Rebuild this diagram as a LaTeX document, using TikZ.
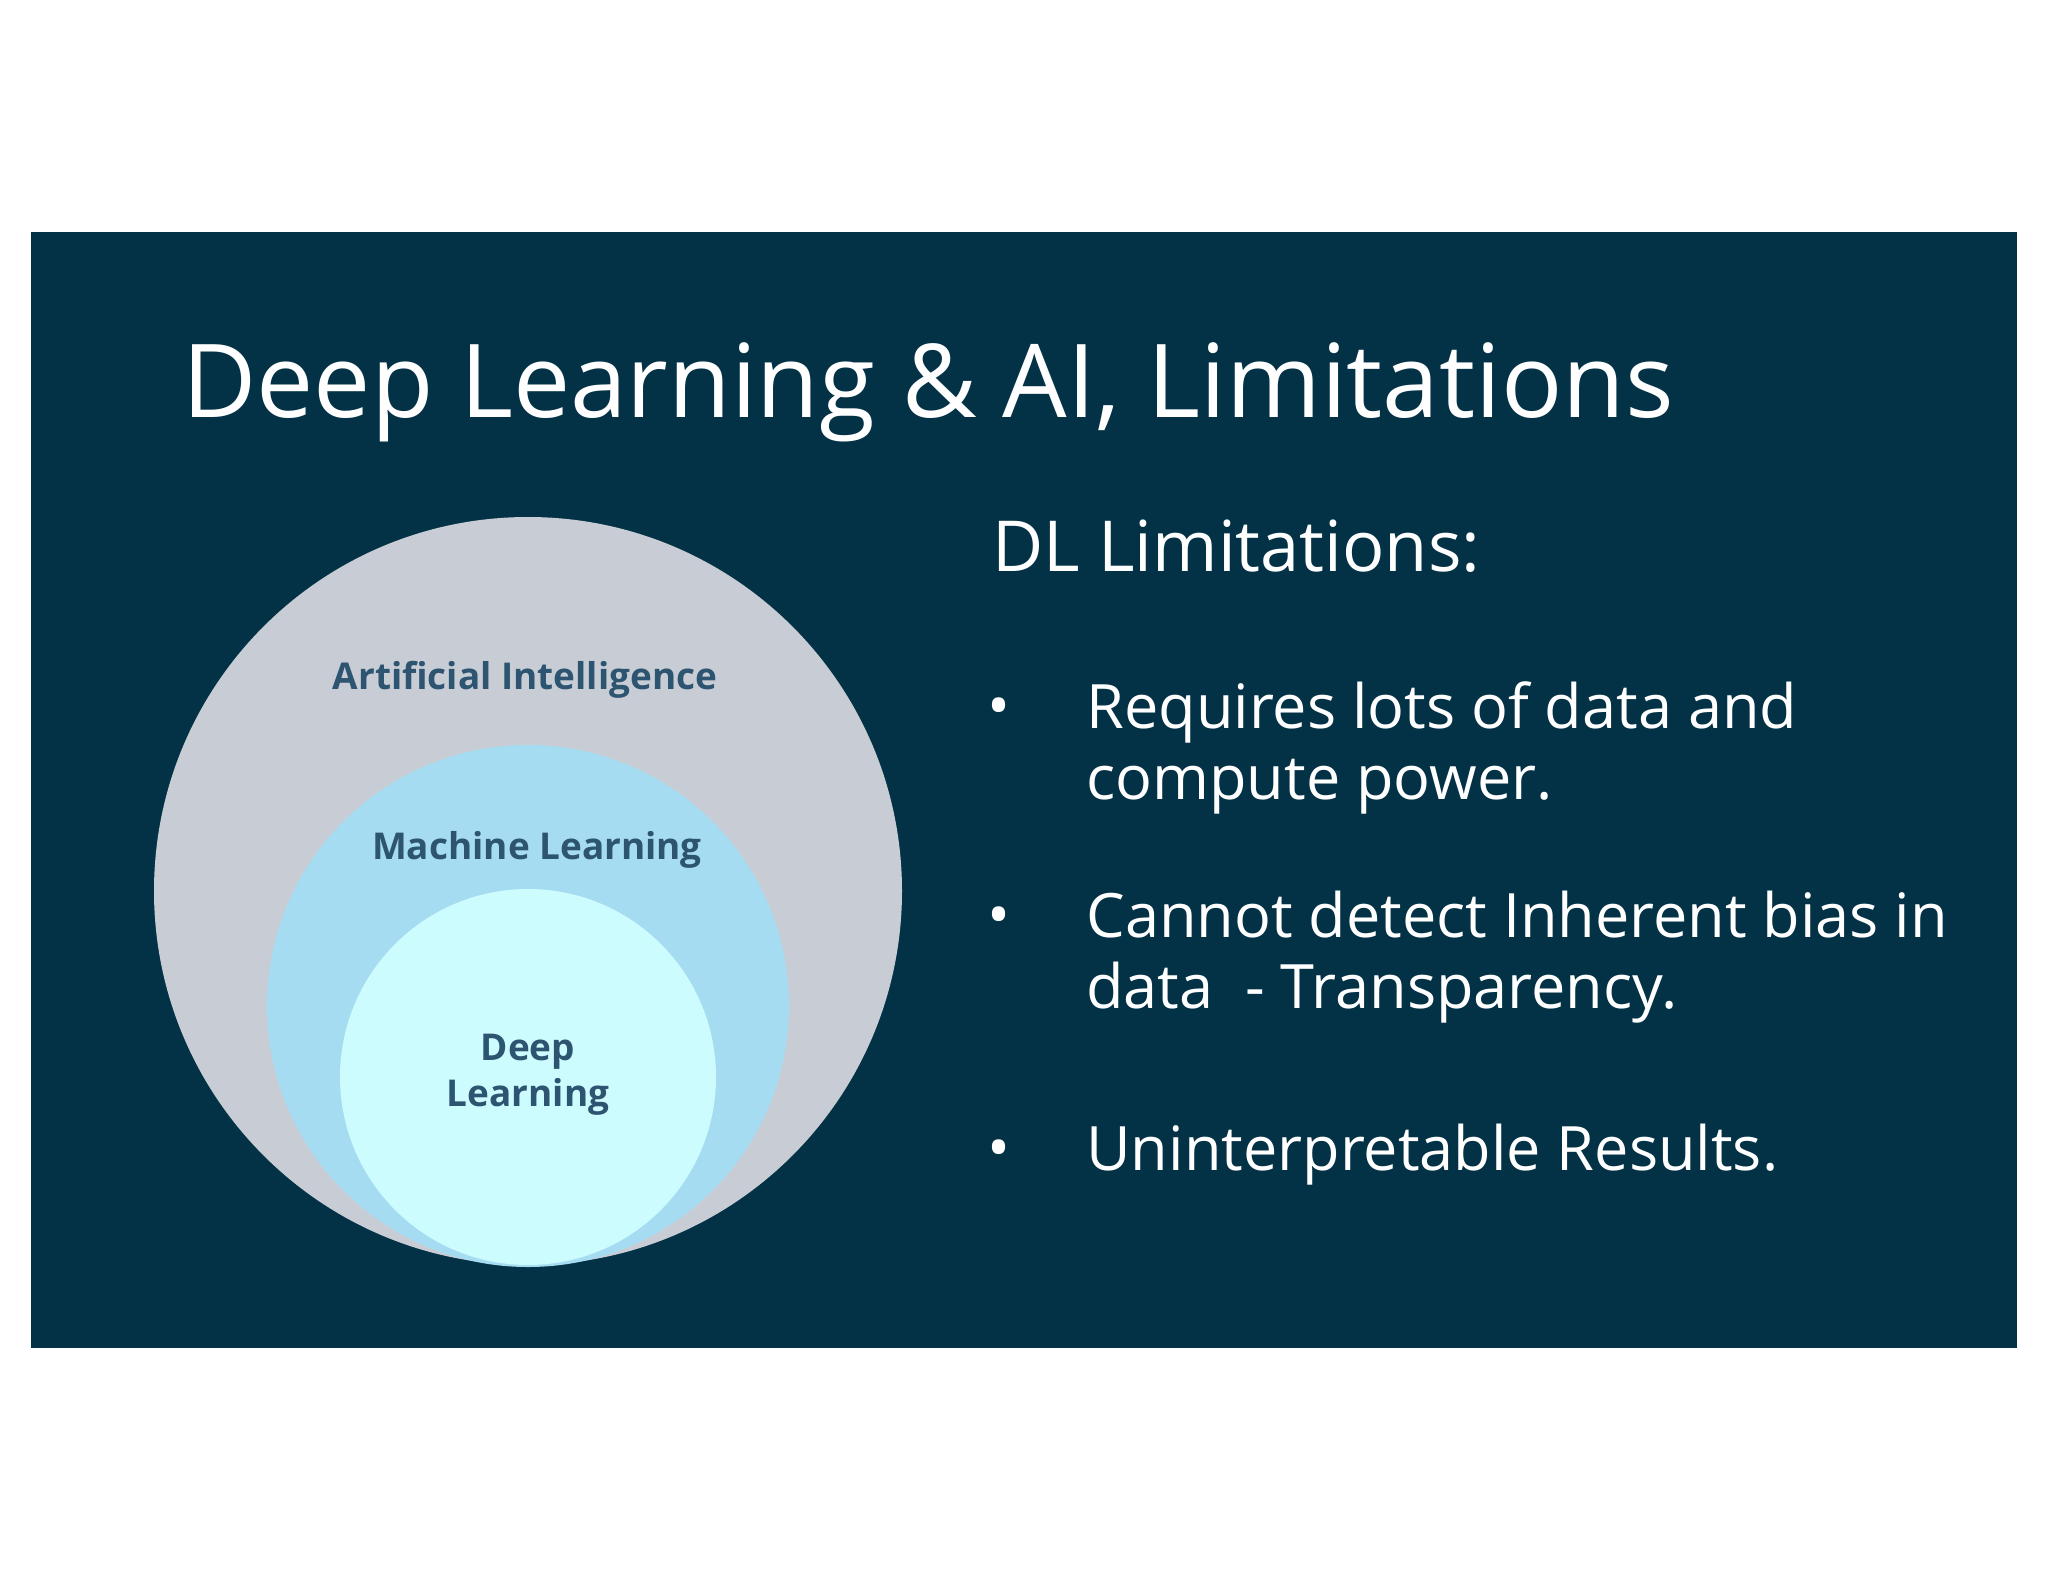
\documentclass[tikz,border=0pt]{standalone}
\usepackage{fontspec}
\setmainfont{Open Sans}
\usetikzlibrary{positioning}
\definecolor{slidebg}{HTML}{033246}
\definecolor{aigray}{HTML}{C8CDD5}
\definecolor{mlblue}{HTML}{A6DCF2}
\definecolor{dlcyan}{HTML}{CCFCFD}
\definecolor{labelblue}{HTML}{2D5470}
\tikzset {
    x=0.01cm, y=-0.01cm,
    circlabel/.style={text=labelblue, font=\fontsize{10.5}{13}\selectfont\bfseries, align=center},
    bullettext/.style={text=white, anchor=west, font=\fontsize{17.4}{20}\selectfont},
    bulletdot/.style={text=white, font=\fontsize{17.4}{20}\selectfont}
}
\begin{document}
\begin{tikzpicture}
                    \useasboundingbox (0,0) rectangle (2048,1582);
                    \fill[white] (0,0) rectangle (2048,1582);
                    \fill[slidebg] (31,232) rectangle (2017,1348);

                    \fill[aigray] (528,891) circle (374);
                    \fill[mlblue] (528,1006) circle (261);
                    \fill[dlcyan] (528,1077) circle (188);

                    \node[circlabel] (ai) at (525,680) {Artificial Intelligence};
                    \node[circlabel] (ml) at (537,850) {Machine Learning};
                    \node[circlabel] (dl) at (528,1075) {Deep\\Learning};

                    \node[text=white, anchor=west, font=\fontsize{29}{34}\selectfont] (title) at (170,392) {Deep Learning \& AI, Limitations};
                    \node[text=white, anchor=west, font=\fontsize{20}{24}\selectfont] (head) at (980,546) {DL Limitations:};

                    \node[bulletdot] (b1) at (999,713) {•};
                    \node[bullettext, align=left] (t1) at (1074,748) {Requires lots of data and\\compute power.};
                    \node[bulletdot] (b2) at (999,922) {•};
                    \node[bullettext, align=left] (t2) at (1074,957) {Cannot detect Inherent bias in\\data\ \ - Transparency.};
                    \node[bulletdot] (b3) at (999,1155) {•};
                    \node[bullettext] (t3) at (1074,1155) {Uninterpretable Results.};
                    \end{tikzpicture}
\end{document}
